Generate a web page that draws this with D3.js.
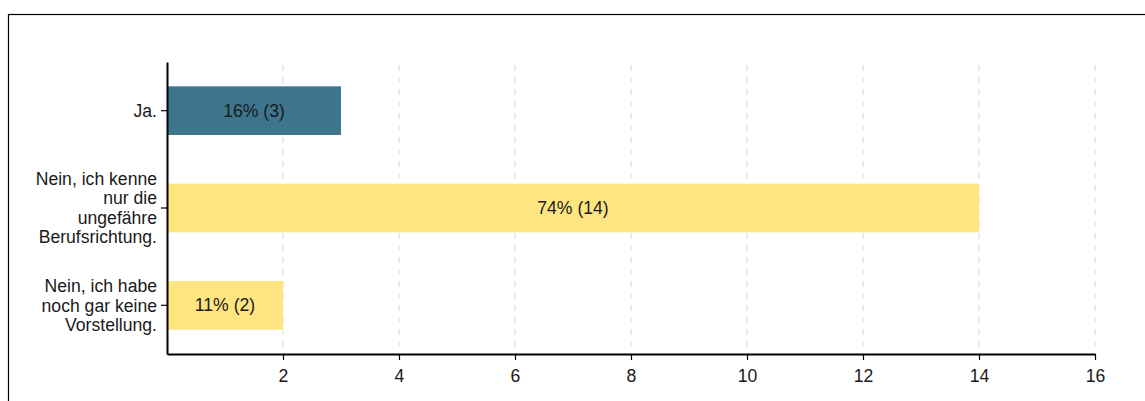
<!DOCTYPE html>
<html>
<head>
<meta charset="utf-8">
<script src="https://cdn.jsdelivr.net/npm/d3@7"></script>
<style>
  body { margin: 0; background: #fff; }
  svg { display: block; font-family: "Liberation Sans", Arial, sans-serif; }
</style>
</head>
<body>
<div id="chart"></div>
<script>
// Antworten (Kategorien), Anzahl und Prozent
const categories = ['Ja.', 'Nein, ich kenne nur die ungefähre Berufsrichtung.', 'Nein, ich habe noch gar keine Vorstellung.'];
const labelLines = [
  ['Ja.'],
  ['Nein, ich kenne', 'nur die', 'ungefähre', 'Berufsrichtung.'],
  ['Nein, ich habe', 'noch gar keine', 'Vorstellung.']
];
const counts = [3, 14, 2];
const percents = [16, 74, 11];
const xTicks = [2, 4, 6, 8, 10, 12, 14, 16];
const barColors = ['#3e758e', '#ffe57f', '#ffe57f'];

const width = 1145;
const height = 401;
const margin = {top: 62, left: 167, right: 50, bottom: 47};
const fontSize = '17.6px';

const svg = d3.select('#chart')
  .append('svg')
  .attr('width', width)
  .attr('height', height);

// Rahmen
svg.append('rect')
  .attr('x', 8.5)
  .attr('y', 14.5)
  .attr('width', 1200)
  .attr('height', 500)
  .attr('fill', 'none')
  .attr('stroke', '#000')
  .attr('stroke-width', 1.2);

const x = d3.scaleLinear()
  .domain([0, 16])
  .range([margin.left, width - margin.right]);

const y = d3.scaleBand()
  .domain(categories)
  .range([margin.top, height - margin.bottom])
  .paddingInner(0.5)
  .paddingOuter(0.25);

const axisY = height - margin.bottom;

// Gitterlinien
svg.append('g')
  .selectAll('line')
  .data(xTicks)
  .enter()
  .append('line')
  .attr('x1', d => x(d))
  .attr('x2', d => x(d))
  .attr('y1', 65)
  .attr('y2', axisY)
  .attr('stroke', '#d9d9d9')
  .attr('stroke-width', 1)
  .attr('stroke-dasharray', '6,6');

// Balken
svg.append('g')
  .selectAll('rect')
  .data(categories)
  .enter()
  .append('rect')
  .attr('x', x(0))
  .attr('y', d => y(d))
  .attr('width', (d, i) => x(counts[i]) - x(0))
  .attr('height', y.bandwidth())
  .attr('fill', (d, i) => barColors[i]);

// Werte in den Balken
svg.append('g')
  .selectAll('text')
  .data(categories)
  .enter()
  .append('text')
  .attr('x', (d, i) => (x(0) + x(counts[i])) / 2)
  .attr('y', d => y(d) + y.bandwidth() / 2)
  .attr('dy', '0.35em')
  .attr('text-anchor', 'middle')
  .attr('fill', '#1a1a1a')
  .style('font-size', fontSize)
  .text((d, i) => `${percents[i]}% (${counts[i]})`);

// x-Achse
const xAxis = svg.append('g')
  .attr('transform', `translate(0,${axisY})`)
  .call(d3.axisBottom(x).tickValues(xTicks).tickSize(6).tickSizeOuter(0));
xAxis.select('.domain').attr('stroke', '#000').attr('stroke-width', 2);
xAxis.selectAll('.tick line').attr('stroke', '#000').attr('stroke-width', 1.2);
xAxis.selectAll('.tick text')
  .attr('fill', '#1a1a1a')
  .style('font-size', fontSize)
  .attr('dy', '1.1em')
  .style('font-family', '"Liberation Sans", Arial, sans-serif');

// y-Achse
const yAxis = svg.append('g')
  .attr('transform', `translate(${margin.left},0)`)
  .call(d3.axisLeft(y).tickSize(6).tickSizeOuter(0).tickFormat(''));
yAxis.select('.domain').attr('stroke', '#000').attr('stroke-width', 2);
yAxis.selectAll('.tick line').attr('stroke', '#000').attr('stroke-width', 1.2);

// mehrzeilige Kategorien
const lineH = 19.5;
yAxis.selectAll('.tick').each(function(d, i) {
  const lines = labelLines[i];
  const t = d3.select(this).append('text')
    .attr('x', -10)
    .attr('text-anchor', 'end')
    .attr('fill', '#1a1a1a')
    .style('font-size', fontSize)
    .style('font-family', '"Liberation Sans", Arial, sans-serif');
  lines.forEach((ln, j) => {
    t.append('tspan')
      .attr('x', -10)
      .attr('y', (j - (lines.length - 1) / 2) * lineH)
      .attr('dy', '0.35em')
      .text(ln);
  });
});
</script>
</body>
</html>
